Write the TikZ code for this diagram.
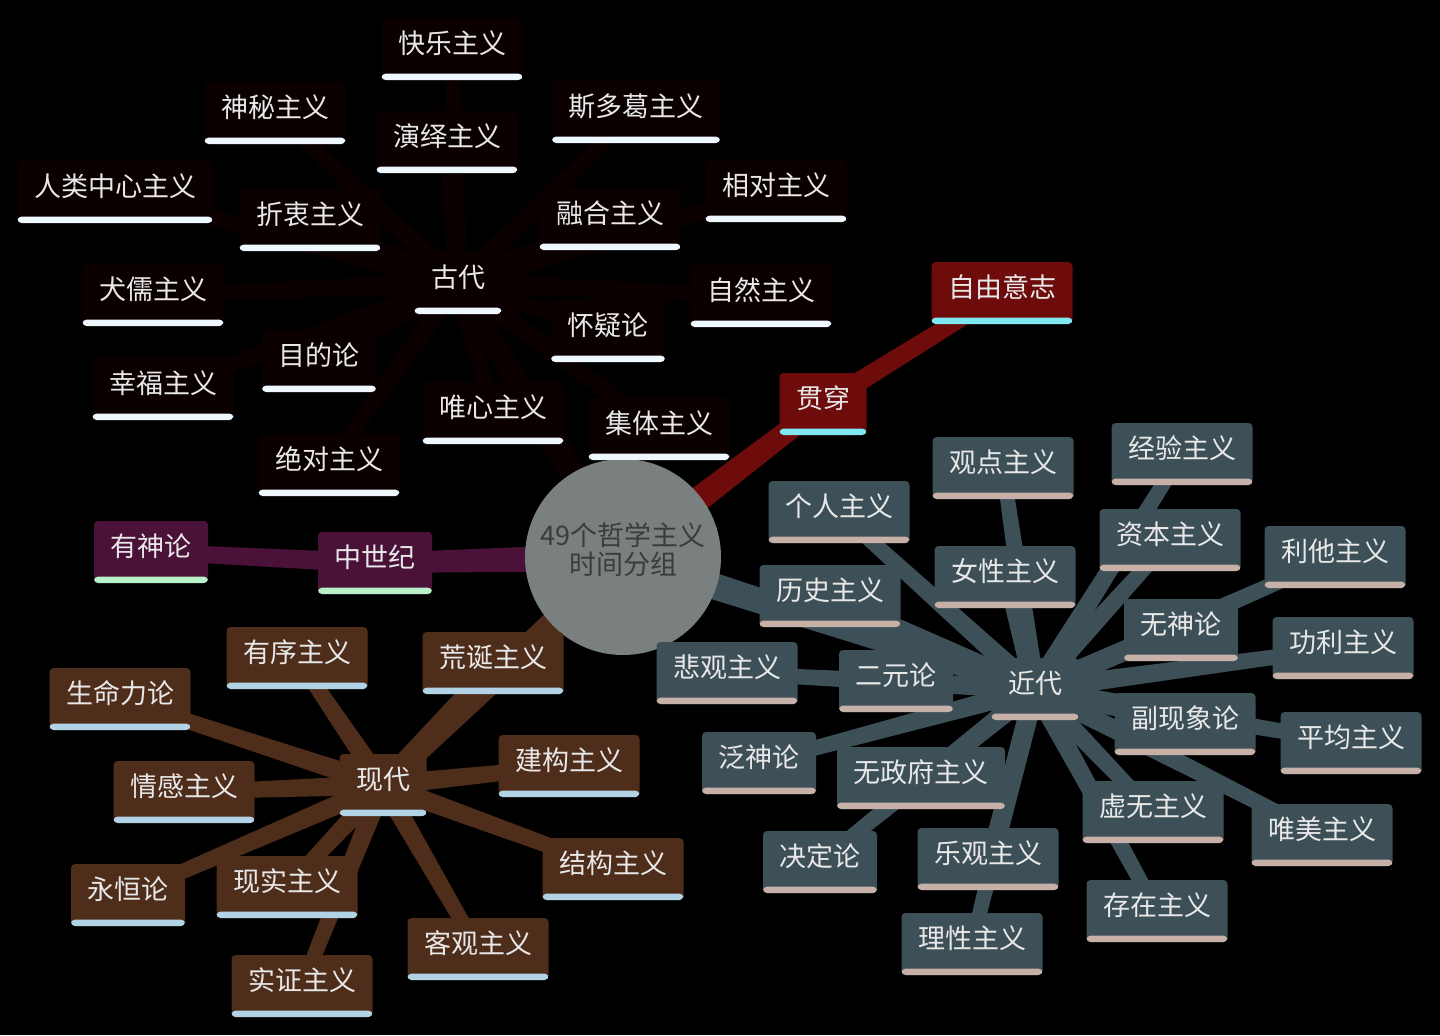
\documentclass[tikz,border=0pt]{standalone}
\usepackage{fontspec}
\newfontfamily\cjk{Noto Sans CJK SC}
\usetikzlibrary{calc,backgrounds}
\definecolor{cGu}{HTML}{0A0000}
\definecolor{uGu}{HTML}{F0F8FF}
\definecolor{cGc}{HTML}{6E0B0B}
\definecolor{uGc}{HTML}{80E8F0}
\definecolor{cZs}{HTML}{4A1239}
\definecolor{uZs}{HTML}{B8F0C8}
\definecolor{cXd}{HTML}{4F2D1B}
\definecolor{uXd}{HTML}{B2D2E6}
\definecolor{cJd}{HTML}{3E5057}
\definecolor{uJd}{HTML}{C6B0A8}
\definecolor{cRoot}{HTML}{7A7F80}
\definecolor{tRoot}{HTML}{3A3C3D}
\definecolor{txtc}{HTML}{E8E8E8}
\newcommand\tbranch[5]{\fill[#1] ($(#2.center)!#4!90:(#3.center)$) -- ($(#3.center)!#5!-90:(#2.center)$) -- ($(#3.center)!#5!90:(#2.center)$) -- ($(#2.center)!#4!-90:(#3.center)$) -- cycle;}
\tikzset{
  nd/.style 2 args={rounded corners=2pt, fill=#1, inner xsep=8.25pt, inner ysep=0pt,
    text height=17.6pt, text depth=13.4pt, font=\cjk\fontsize{13.5}{15}\selectfont, text=txtc,
    path picture={\fill[#2] (path picture bounding box.south west) rectangle ([yshift=3.2pt]path picture bounding box.south east);}},
  gu/.style={nd={cGu}{uGu}},
  gc/.style={nd={cGc}{uGc}},
  zs/.style={nd={cZs}{uZs}},
  xd/.style={nd={cXd}{uXd}},
  jd/.style={nd={cJd}{uJd}},
}
\begin{document}
\begin{tikzpicture}[x=0.5pt,y=-0.5pt]
\begin{pgfonlayer}{background}
\fill[black] (0,0) rectangle (1440,1035);
\end{pgfonlayer}
\useasboundingbox (0,0) rectangle (1440,1035);
% root
\node[circle, fill=cRoot, minimum size=98pt, inner sep=0pt] (root) at (623,557) {};
\node[font=\cjk\fontsize{13.5}{14.5}\selectfont, text=tRoot, align=center] (rootlbl) at (623,550) {49个哲学主义\\时间分组};
% eras
\node[gu] (gd) at (458,283) {古代};
\node[gc] (gcn) at (823,404) {贯穿};
\node[zs] (zsn) at (375,563) {中世纪};
\node[xd] (xdn) at (383,785) {现代};
\node[jd] (jdn) at (1035,689) {近代};
% ancient
\node[gu] (a1) at (452,49) {快乐主义};
\node[gu] (a2) at (275,113) {神秘主义};
\node[gu] (a3) at (447,142) {演绎主义};
\node[gu] (a4) at (636,112) {斯多葛主义};
\node[gu] (a5) at (115,192) {人类中心主义};
\node[gu] (a6) at (310,220) {折衷主义};
\node[gu] (a7) at (776,191) {相对主义};
\node[gu] (a8) at (610,219) {融合主义};
\node[gu] (a9) at (153,295) {犬儒主义};
\node[gu] (a10) at (761,296) {自然主义};
\node[gu] (a11) at (608,331) {怀疑论};
\node[gu] (a12) at (319,361) {目的论};
\node[gu] (a13) at (163,389) {幸福主义};
\node[gu] (a14) at (493,413) {唯心主义};
\node[gu] (a15) at (659,429) {集体主义};
\node[gu] (a16) at (329,465) {绝对主义};
% throughout
\node[gc] (c1) at (1002,293) {自由意志};
% medieval
\node[zs] (m1) at (151,552) {有神论};
% modern (xiandai)
\node[xd] (x1) at (297,658) {有序主义};
\node[xd] (x2) at (493,663) {荒诞主义};
\node[xd] (x3) at (120,699) {生命力论};
\node[xd] (x4) at (569,766) {建构主义};
\node[xd] (x5) at (184,792) {情感主义};
\node[xd] (x6) at (613,869) {结构主义};
\node[xd] (x7) at (128,895) {永恒论};
\node[xd] (x8) at (287,887) {现实主义};
\node[xd] (x9) at (478,949) {客观主义};
\node[xd] (x10) at (302,986) {实证主义};
% early modern (jindai)
\node[jd] (b1) at (839,512) {个人主义};
\node[jd] (b2) at (1003,468) {观点主义};
\node[jd] (b3) at (1182,454) {经验主义};
\node[jd] (b4) at (1170,540) {资本主义};
\node[jd] (b5) at (1335,557) {利他主义};
\node[jd] (b6) at (1005,577) {女性主义};
\node[jd] (b7) at (830,596) {历史主义};
\node[jd] (b8) at (1181,630) {无神论};
\node[jd] (b9) at (1343,648) {功利主义};
\node[jd] (b10) at (727,673) {悲观主义};
\node[jd] (b11) at (896,681) {二元论};
\node[jd] (b12) at (1185,724) {副现象论};
\node[jd] (b13) at (1351,743) {平均主义};
\node[jd] (b14) at (759,763) {泛神论};
\node[jd] (b15) at (921,778) {无政府主义};
\node[jd] (b16) at (1153,812) {虚无主义};
\node[jd] (b17) at (1322,835) {唯美主义};
\node[jd] (b18) at (820,862) {决定论};
\node[jd] (b19) at (988,859) {乐观主义};
\node[jd] (b20) at (1157,911) {存在主义};
\node[jd] (b21) at (972,944) {理性主义};
\begin{pgfonlayer}{background}
\tbranch{cGu}{root}{gd}{7pt}{5pt}
\tbranch{cGc}{root}{gcn}{7pt}{5pt}
\tbranch{cZs}{root}{zsn}{7pt}{5pt}
\tbranch{cXd}{root}{xdn}{7pt}{5pt}
\tbranch{cJd}{root}{jdn}{7pt}{5pt}
\foreach \n in {a1,a2,a3,a4,a5,a6,a7,a8,a9,a10,a11,a12,a13,a14,a15,a16}
  {\tbranch{cGu}{gd}{\n}{5pt}{3.5pt}}
\tbranch{cGc}{gcn}{c1}{5pt}{4pt}
\tbranch{cZs}{zsn}{m1}{5pt}{4pt}
\foreach \n in {x1,x2,x3,x4,x5,x6,x7,x8,x9,x10}
  {\tbranch{cXd}{xdn}{\n}{5pt}{3.5pt}}
\foreach \n in {b1,b2,b3,b4,b5,b6,b7,b8,b9,b10,b11,b12,b13,b14,b15,b16,b17,b18,b19,b20,b21}
  {\tbranch{cJd}{jdn}{\n}{5pt}{3.5pt}}
\end{pgfonlayer}
\end{tikzpicture}
\end{document}
